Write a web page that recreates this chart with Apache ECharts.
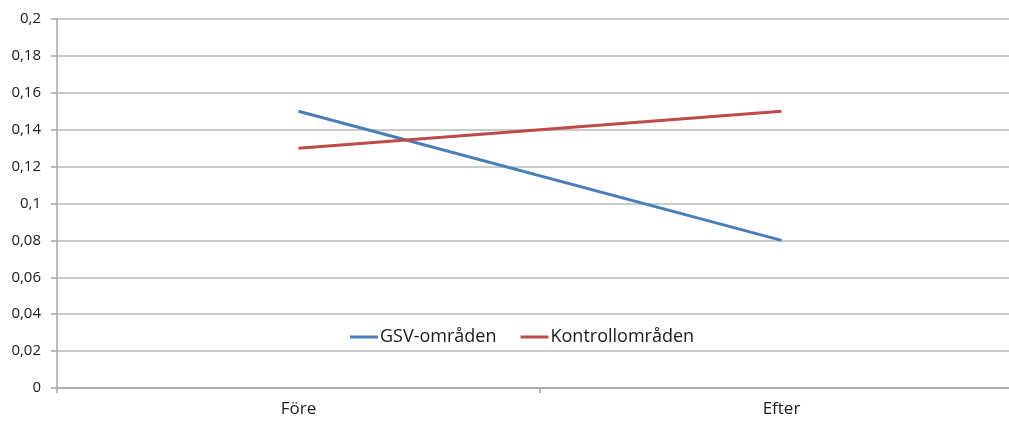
<!DOCTYPE html>
<html>
<head>
<meta charset="utf-8">
<script src="https://cdn.jsdelivr.net/npm/echarts@6/dist/echarts.min.js"></script>
<style>
  html, body { margin: 0; padding: 0; background: #fff; overflow: hidden; }
  #chart { width: 1023px; height: 421px; }
</style>
</head>
<body>
<div id="chart"></div>
<script>
// Periods compared
const categories = ['Före', 'Efter'];
// Series values per period
const gsvValues = [0.15, 0.08];
const kontrollValues = [0.13, 0.15];
const seriesNames = ['GSV-områden', 'Kontrollområden'];

const chart = echarts.init(document.getElementById('chart'));
const fontFamily = 'Open Sans, Liberation Sans, sans-serif';

chart.setOption({
  animation: false,
  backgroundColor: '#ffffff',
  legend: {
    left: 345,
    top: 323,
    itemWidth: 28,
    itemHeight: 3,
    itemGap: 24,
    icon: 'rect',
    textStyle: { fontFamily, fontSize: 18, color: '#1a1a1a', padding: [0, 0, 0, -3] },
    data: seriesNames
  },
  grid: { left: 57, right: 0, top: 19, bottom: 33, containLabel: false },
  xAxis: {
    type: 'category',
    data: categories,
    boundaryGap: true,
    axisLine: { lineStyle: { color: '#a6a6a6', width: 1.5 } },
    axisTick: { show: true, length: 5, lineStyle: { color: '#a6a6a6', width: 1.5 } },
    axisLabel: { fontFamily, fontSize: 17, color: '#1a1a1a', margin: 13 }
  },
  yAxis: {
    type: 'value',
    min: 0,
    max: 0.2,
    interval: 0.02,
    axisLine: { show: true, lineStyle: { color: '#a6a6a6', width: 1.5 } },
    axisTick: { show: true, length: 6, lineStyle: { color: '#a6a6a6', width: 1.5 } },
    splitLine: { lineStyle: { color: '#b8b8b8', width: 1.5 } },
    axisLabel: {
      fontFamily, fontSize: 15, color: '#1a1a1a', margin: 16,
      formatter: v => String(parseFloat(v.toFixed(2))).replace('.', ',')
    }
  },
  series: [
    {
      name: seriesNames[0], type: 'line', data: gsvValues,
      symbol: 'none', lineStyle: { color: '#4a7ebb', width: 3 },
      itemStyle: { color: '#4a7ebb' }
    },
    {
      name: seriesNames[1], type: 'line', data: kontrollValues,
      symbol: 'none', lineStyle: { color: '#be4b48', width: 3 },
      itemStyle: { color: '#be4b48' }
    }
  ]
});
</script>
</body>
</html>
